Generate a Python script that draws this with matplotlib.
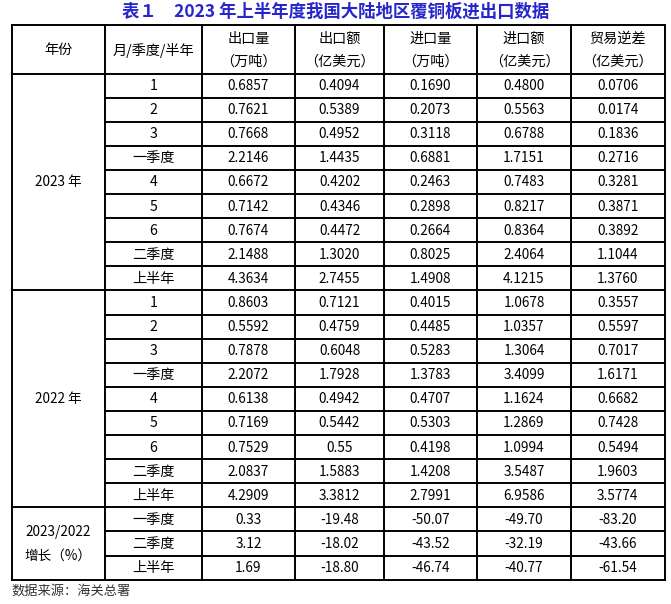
import matplotlib
matplotlib.use("Agg")
import matplotlib.pyplot as plt

plt.rcParams['font.family'] = ['Noto Sans CJK SC', 'DejaVu Sans']

title = "表１　2023 年上半年度我国大陆地区覆铜板进出口数据"
header_top = ["年份", "月/季度/半年", "出口量", "出口额", "进口量", "进口额", "贸易逆差"]
header_unit = ["", "", "（万吨）", "（亿美元）", "（万吨）", "（亿美元）", "（亿美元）"]
group_labels = ["2023 年", "2022 年", "2023/2022\n增长（%）"]
periods = ["1", "2", "3", "一季度", "4", "5", "6", "二季度", "上半年"]
growth_periods = ["一季度", "二季度", "上半年"]

exp_qty_2023 = ["0.6857", "0.7621", "0.7668", "2.2146", "0.6672", "0.7142", "0.7674", "2.1488", "4.3634"]
exp_val_2023 = ["0.4094", "0.5389", "0.4952", "1.4435", "0.4202", "0.4346", "0.4472", "1.3020", "2.7455"]
imp_qty_2023 = ["0.1690", "0.2073", "0.3118", "0.6881", "0.2463", "0.2898", "0.2664", "0.8025", "1.4908"]
imp_val_2023 = ["0.4800", "0.5563", "0.6788", "1.7151", "0.7483", "0.8217", "0.8364", "2.4064", "4.1215"]
deficit_2023 = ["0.0706", "0.0174", "0.1836", "0.2716", "0.3281", "0.3871", "0.3892", "1.1044", "1.3760"]

exp_qty_2022 = ["0.8603", "0.5592", "0.7878", "2.2072", "0.6138", "0.7169", "0.7529", "2.0837", "4.2909"]
exp_val_2022 = ["0.7121", "0.4759", "0.6048", "1.7928", "0.4942", "0.5442", "0.55", "1.5883", "3.3812"]
imp_qty_2022 = ["0.4015", "0.4485", "0.5283", "1.3783", "0.4707", "0.5303", "0.4198", "1.4208", "2.7991"]
imp_val_2022 = ["1.0678", "1.0357", "1.3064", "3.4099", "1.1624", "1.2869", "1.0994", "3.5487", "6.9586"]
deficit_2022 = ["0.3557", "0.5597", "0.7017", "1.6171", "0.6682", "0.7428", "0.5494", "1.9603", "3.5774"]

exp_qty_growth = ["0.33", "3.12", "1.69"]
exp_val_growth = ["-19.48", "-18.02", "-18.80"]
imp_qty_growth = ["-50.07", "-43.52", "-46.74"]
imp_val_growth = ["-49.70", "-32.19", "-40.77"]
deficit_growth = ["-83.20", "-43.66", "-61.54"]

source = "数据来源：海关总署"

groups = [
    (periods, [exp_qty_2023, exp_val_2023, imp_qty_2023, imp_val_2023, deficit_2023]),
    (periods, [exp_qty_2022, exp_val_2022, imp_qty_2022, imp_val_2022, deficit_2022]),
    (growth_periods, [exp_qty_growth, exp_val_growth, imp_qty_growth, imp_val_growth, deficit_growth]),
]

W, H = 671, 604
fig = plt.figure(figsize=(W / 100, H / 100), dpi=100)
ax = fig.add_axes([0, 0, 1, 1])
ax.set_xlim(0, W)
ax.set_ylim(H, 0)
ax.axis("off")

col_x = [11.5, 104.5, 202, 295, 384, 477, 571, 664.5]
header_y0, header_y1 = 25, 73.5
row_h = 24.1
lw = 1.4
fs = 9.8
hfs = 10.2

ax.text(W / 2, 12, title, ha="center", va="center", fontsize=12.5,
        fontweight="bold", color="#2626cc")

# header
for i, (t, u) in enumerate(zip(header_top, header_unit)):
    cx = (col_x[i] + col_x[i + 1]) / 2
    if u:
        ax.text(cx, 38.5, t, ha="center", va="center", fontsize=hfs)
        ax.text(cx, 62, u, ha="center", va="center", fontsize=hfs)
    else:
        ax.text(cx, 50, t, ha="center", va="center", fontsize=hfs)

ax.plot([col_x[0], col_x[-1]], [header_y0, header_y0], color="black", lw=lw)
ax.plot([col_x[0], col_x[-1]], [header_y1, header_y1], color="black", lw=lw)

y = header_y1
for label, (rows, cols) in zip(group_labels, groups):
    y_start = y
    for r, p in enumerate(rows):
        cy = y + row_h / 2 + 0.5
        ax.text((col_x[1] + col_x[2]) / 2, cy, p, ha="center", va="center", fontsize=hfs)
        for c, vals in enumerate(cols):
            ax.text((col_x[c + 2] + col_x[c + 3]) / 2, cy, vals[r],
                    ha="center", va="center", fontsize=fs)
        y += row_h
        if r < len(rows) - 1:
            ax.plot([col_x[1], col_x[-1]], [y, y], color="black", lw=lw)
    ax.plot([col_x[0], col_x[-1]], [y, y], color="black", lw=lw)
    ax.text((col_x[0] + col_x[1]) / 2, (y_start + y) / 2, label, ha="center",
            va="center", fontsize=fs, linespacing=1.9)

for x in col_x:
    ax.plot([x, x], [header_y0, y], color="black", lw=lw)

ax.text(11, 591, source, ha="left", va="center", fontsize=9.5, color="#333333")

fig.savefig("out.png", dpi=100)
